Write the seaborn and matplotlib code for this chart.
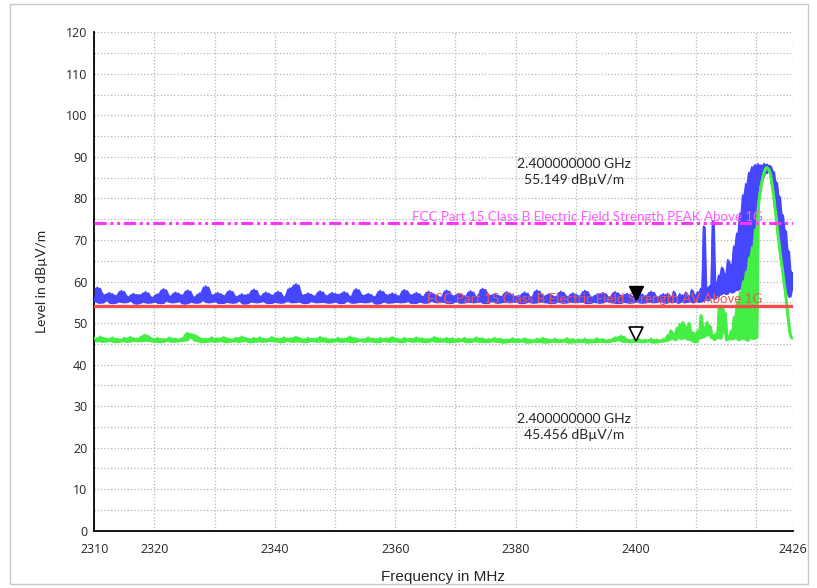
import numpy as np
import pandas as pd
import seaborn as sns
import matplotlib.pyplot as plt
from matplotlib.patches import Rectangle
from matplotlib.transforms import offset_copy

sns.set_style("white")
plt.rcParams['font.family'] = ['Lato', 'DejaVu Sans']

# sweep: 0.5 MHz steps up to 2405 MHz, 0.25 MHz steps over the band edge
freq_low = np.arange(2310, 2405, 0.5)
freq_high = np.arange(2405, 2426.001, 0.25)

# peak detector trace (dBuV/m)
peak_low = [
    55.2, 58.6, 54.8, 56.9, 55.4, 57.3, 54.7, 56.6, 55.1, 57.8, 54.9, 56.4, 55.3, 57.1, 54.6, 56.8, 55.0, 57.5, 54.8, 56.2,
    55.1, 57.0, 54.7, 58.2, 55.3, 56.5, 54.9, 57.4, 55.2, 56.7, 54.6, 57.9, 55.0, 56.3, 54.8, 57.2, 55.4, 58.9, 54.9, 56.8,
    55.2, 57.3, 54.7, 56.6, 55.0, 57.8, 54.8, 56.4, 55.3, 57.0, 54.6, 56.9, 55.1, 58.1, 54.9, 56.5, 55.2, 57.4, 54.7, 56.7,
    55.0, 57.6, 54.8, 56.3, 55.3, 58.4, 54.9, 59.4, 55.1, 56.8, 54.7, 57.2, 55.2, 56.5, 54.9, 57.7, 55.0, 56.6, 54.8, 57.3,
    55.1, 56.9, 54.7, 57.5, 55.3, 56.4, 54.8, 58.2, 55.0, 56.7, 54.9, 57.1, 55.2, 56.3, 54.6, 57.8, 55.1, 56.8, 54.8, 57.2,
    55.0, 56.5, 54.9, 58.0, 55.2, 56.8, 54.7, 57.3, 55.1, 56.4, 54.8, 57.6, 55.3, 56.9, 54.9, 56.2, 55.0, 57.9, 54.7, 56.6,
    55.2, 57.1, 54.8, 56.5, 55.0, 57.7, 54.9, 56.3, 55.1, 58.3, 54.7, 56.8, 55.2, 57.0, 54.8, 56.4, 55.0, 57.5, 54.9, 56.7,
    55.1, 56.6, 54.7, 57.4, 55.0, 56.2, 54.8, 57.9, 55.2, 56.5, 54.9, 57.0, 54.7, 56.3, 55.1, 57.6, 54.8, 56.4, 55.0, 57.2,
    54.9, 56.5, 55.1, 57.8, 54.7, 56.3, 55.0, 56.9, 54.8, 57.3, 55.2, 56.2, 54.9, 57.5, 54.7, 56.6, 55.0, 57.1, 54.8, 56.4,
    55.1, 57.2, 54.8, 56.5, 55.0, 57.6, 54.9, 56.3, 55.2, 57.0,
]
peak_high = [
    54.8, 57.1, 55.0, 56.4, 54.9, 57.6, 55.1, 56.3, 54.8, 57.0, 55.2, 56.7,
    54.9, 57.4, 55.0, 56.5, 55.3, 58.0, 54.9, 56.8, 55.4, 57.5, 55.0, 58.3,
    55.2, 73.3, 55.6, 58.6, 55.4, 59.0, 56.1, 74.6, 55.8, 59.8, 56.3, 61.5,
    56.8, 63.4, 57.2, 61.8, 56.9, 65.2, 57.5, 64.0, 57.3, 68.5, 57.8, 71.6,
    58.0, 76.4, 59.2, 80.8, 60.5, 83.5, 61.0, 86.2, 62.4, 87.6, 64.0, 88.1,
    78.0, 88.3, 83.5, 88.0, 85.0, 88.4, 86.0, 88.2, 86.4, 87.9, 83.8, 86.6,
    78.5, 84.0, 72.3, 80.6, 66.2, 76.2, 61.0, 72.4, 57.0, 67.5, 56.3, 62.4,
    58.2,
]

# average detector trace (dBuV/m)
avg_low = [
    46.4, 45.5, 46.8, 45.4, 46.3, 45.6, 46.6, 45.3, 46.2, 45.5, 46.5, 45.4, 46.7, 45.6, 46.3, 45.5, 46.9, 47.2, 45.6, 46.4,
    45.4, 46.5, 45.3, 46.2, 45.6, 46.6, 45.4, 46.3, 45.5, 46.4, 45.7, 47.7, 46.4, 47.3, 45.6, 46.5, 45.3, 46.3, 45.5, 46.6,
    45.4, 46.4, 45.6, 46.7, 45.3, 46.2, 45.5, 46.5, 45.4, 46.8, 45.6, 46.3, 45.3, 46.5, 45.5, 46.6, 45.4, 46.2, 45.6, 46.7,
    45.5, 46.3, 45.3, 46.6, 45.6, 46.4, 45.4, 46.8, 45.5, 46.2, 45.3, 46.5, 45.6, 46.3, 45.4, 46.7, 45.5, 46.4, 45.3, 46.2,
    45.6, 46.5, 45.4, 46.3, 45.5, 46.8, 45.3, 46.4, 45.6, 46.2, 45.4, 46.6, 45.5, 46.3, 45.3, 46.5, 45.6, 46.4, 45.4, 46.7,
    45.5, 46.2, 45.3, 46.5, 45.6, 46.3, 45.4, 46.6, 45.5, 46.4, 45.3, 46.2, 45.6, 46.7, 45.4, 46.3, 45.5, 46.5, 45.3, 46.4,
    45.4, 46.3, 45.6, 46.5, 45.3, 46.2, 45.5, 46.6, 45.4, 46.4, 45.3, 46.2, 45.5, 46.5, 45.4, 46.3, 45.2, 46.1, 45.4, 46.4,
    45.3, 46.2, 45.5, 46.4, 45.2, 46.0, 45.4, 46.3, 45.3, 46.5, 45.2, 46.1, 45.4, 46.3, 45.3, 46.0, 45.5, 46.4, 45.2, 46.2,
    45.3, 46.1, 45.4, 46.3, 45.2, 46.0, 45.3, 46.4, 45.4, 46.2, 45.3, 46.0, 45.5, 46.6, 45.8, 47.0, 45.4, 46.2, 45.3, 46.1,
    45.4, 46.2, 45.3, 46.0, 45.5, 46.3, 45.2, 46.1, 45.4, 46.2,
]
avg_high = [
    45.6, 47.2, 45.9, 48.3, 46.2, 47.6, 45.8, 48.9, 46.4, 49.8, 46.1, 50.3,
    46.3, 49.2, 46.0, 50.1, 45.8, 48.0, 45.4, 47.6, 45.3, 48.3, 46.2, 52.0,
    46.4, 49.0, 46.8, 50.3, 47.1, 49.4, 46.3, 47.2, 45.9, 47.5, 46.4, 53.8,
    46.2, 54.1, 47.8, 52.6, 45.8, 46.9, 46.1, 48.2, 46.0, 51.5, 46.3, 55.0,
    45.8, 57.5, 46.2, 60.1, 46.0, 62.4, 45.7, 65.8, 46.3, 68.4, 46.1, 72.6,
    46.4, 78.3, 81.2, 83.5, 85.2, 86.6, 87.4, 87.6, 87.0, 86.0, 83.6, 81.0,
    78.0, 75.0, 71.5, 68.5, 65.5, 63.0, 60.0, 57.5, 54.0, 50.5, 47.6, 46.5,
    46.2,
]

limit_peak = 74
limit_avg = 54
limit_peak_name = "FCC Part 15 Class B Electric Field Strength PEAK Above 1G"
limit_avg_name = "FCC Part 15 Class B Electric Field Strength AV Above 1G"

marker_freq = 2400
marker_peak = 55.149
marker_avg = 45.456

x_ticks = [2310, 2320, 2330, 2340, 2350, 2360, 2370, 2380, 2390, 2400, 2410, 2420, 2426]
x_tick_labels = ["2310", "2320", "", "2340", "", "2360", "", "2380", "", "2400", "", "", "2426"]

df = pd.DataFrame({
    "freq": np.concatenate([freq_low, freq_high]),
    "peak": peak_low + peak_high,
    "avg": avg_low + avg_high,
})

fig = plt.figure(figsize=(8.17, 5.88), dpi=100)
ax = fig.add_axes([0.1154, 0.0974, 0.9701 - 0.1154, 0.9451 - 0.0974])

# the sweep is far denser than the screen, so each trace shows up as a band
for col, color, z in [("peak", "#4646ff", 3), ("avg", "#44ee44", 4)]:
    lo = df[col].rolling(3, center=True, min_periods=1).min()
    hi = df[col].rolling(3, center=True, min_periods=1).max()
    ax.fill_between(df["freq"], lo, hi, color=color, lw=0, zorder=z)
    sns.lineplot(data=df, x="freq", y=col, color=color, lw=1.3,
                 estimator=None, sort=False, ax=ax, zorder=z)

ax.axhline(limit_avg, color="#f24b4b", lw=2.4, zorder=5)
ax.axhline(limit_peak, color="#ff33ff", lw=2.2, zorder=5,
           linestyle=(0, (4, 1.2, 1, 1.2, 1, 1.2)))
ax.text(2421, limit_peak + 1.6, limit_peak_name, color="#ff5cff",
        fontsize=9.6, ha="right", va="center", zorder=6)
ax.text(2421, limit_avg + 1.8, limit_avg_name, color="#f05656",
        fontsize=9.6, ha="right", va="center", zorder=6)

# markers sit just above the trace point
up = offset_copy(ax.transData, fig=fig, x=0, y=6, units="points")
ax.plot([marker_freq], [marker_peak], marker="v", ms=10, color="black",
        transform=up, zorder=7)
ax.plot([marker_freq], [marker_avg], marker="v", ms=10, mfc="white",
        mec="black", mew=1.2, transform=up, zorder=7)

ax.text(2389.7, 86.4, f"{marker_freq / 1000:.9f} GHz\n{marker_peak:.3f} dBµV/m",
        fontsize=10, ha="center", va="center", linespacing=1.35, zorder=6)
ax.text(2389.7, 25.0, f"{marker_freq / 1000:.9f} GHz\n{marker_avg:.3f} dBµV/m",
        fontsize=10, ha="center", va="center", linespacing=1.35, zorder=6)

ax.set_xlim(2310, 2426)
ax.set_ylim(0, 120)
ax.set_xticks(x_ticks)
ax.set_xticklabels(x_tick_labels)
y_ticks = list(range(0, 121, 5))
ax.set_yticks(y_ticks)
ax.set_yticklabels([str(v) if v % 10 == 0 else "" for v in y_ticks])
for lab in ax.get_xticklabels() + ax.get_yticklabels():
    lab.set_family(["Open Sans", "DejaVu Sans"])
    lab.set_fontsize(9)
ax.tick_params(direction="inout", length=6, width=1.2, color="black", pad=2)
ax.tick_params(axis="x", pad=6)

ax.grid(True, linestyle=":", color="#b5b5b5", lw=0.9, zorder=0)
ax.set_axisbelow(True)
for side in ["top", "right"]:
    ax.spines[side].set_visible(False)
for side in ["left", "bottom"]:
    ax.spines[side].set_color("black")
    ax.spines[side].set_linewidth(1.3)

ax.set_xlabel("Frequency in MHz", fontsize=11,
              family=["Liberation Sans Narrow", "Liberation Sans"])
ax.set_ylabel("Level in dBµV/m", fontsize=10)
ax.xaxis.set_label_coords(0.5, -0.079)
ax.yaxis.set_label_coords(-0.066, 0.5)

fig.patches.append(Rectangle((10 / 817, 4 / 588), 798 / 817, 580 / 588,
                             transform=fig.transFigure, fill=False,
                             ec="#c8c8c8", lw=1))

fig.savefig("out.png", dpi=100)
plt.close(fig)
